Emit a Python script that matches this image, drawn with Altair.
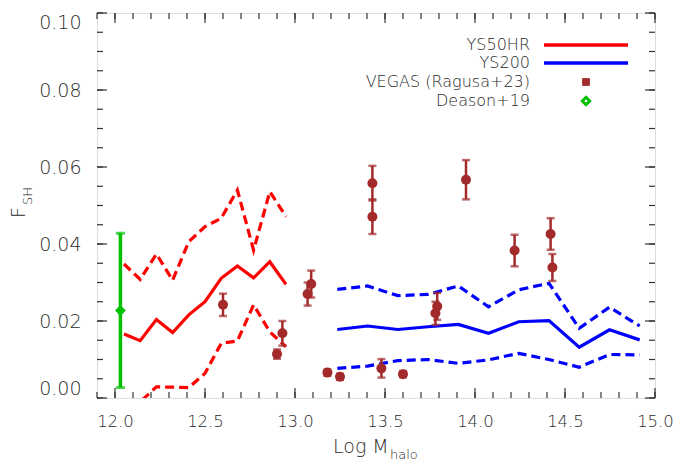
import altair as alt
import pandas as pd
import numpy as np

# ---------------- data ----------------
ys50_x = [12.05, 12.14, 12.23, 12.32, 12.41, 12.50, 12.59, 12.68, 12.77, 12.86, 12.95]
ys50_mid = [0.0166, 0.0149, 0.0204, 0.0170, 0.0216, 0.0250, 0.0311, 0.0343, 0.0312, 0.0354, 0.0295]
ys50_hi = [0.0348, 0.0308, 0.0374, 0.0306, 0.0406, 0.0445, 0.0467, 0.0540, 0.0384, 0.0536, 0.0471]
ys50_lo = [-0.006, -0.001, 0.0029, 0.0028, 0.0027, 0.0064, 0.0142, 0.0148, 0.0242, 0.0172, 0.0133]

ys200_x = [13.235, 13.403, 13.571, 13.739, 13.907, 14.075, 14.243, 14.411, 14.579, 14.747, 14.915]
ys200_mid = [0.0178, 0.0187, 0.0178, 0.0185, 0.0191, 0.0168, 0.0198, 0.0201, 0.0132, 0.0177, 0.0151]
ys200_hi = [0.0282, 0.0291, 0.0266, 0.0269, 0.0291, 0.0237, 0.0281, 0.0298, 0.0181, 0.0236, 0.0187]
ys200_lo = [0.0077, 0.0083, 0.0097, 0.0100, 0.0090, 0.0099, 0.0116, 0.0100, 0.0080, 0.0113, 0.0112]

vegas_x = [12.60, 12.90, 12.93, 13.07, 13.09, 13.18, 13.25, 13.43, 13.43, 13.48, 13.60,
           13.78, 13.79, 13.95, 14.22, 14.42, 14.43]
vegas_y = [0.0242, 0.0114, 0.0168, 0.0270, 0.0296, 0.0066, 0.0055, 0.0558, 0.0471, 0.0077, 0.0062,
           0.0220, 0.0238, 0.0567, 0.0383, 0.0426, 0.0339]
vegas_err = [0.0029, 0.0012, 0.0032, 0.0030, 0.0035, 0.0008, 0.0008, 0.0045, 0.0045, 0.0024, 0.0008,
             0.0030, 0.0035, 0.0051, 0.0041, 0.0041, 0.0035]

deason_x = [12.03]
deason_y = [0.0227]
deason_lo = [0.0027]
deason_hi = [0.0428]

x_ticks = [12.0, 12.5, 13.0, 13.5, 14.0, 14.5, 15.0]
y_ticks = [0.00, 0.02, 0.04, 0.06, 0.08, 0.10]

legend_labels = ["YS50HR", "YS200", "VEGAS (Ragusa+23)", "Deason+19"]

# ---------------- styling ----------------
W, H = 558, 385
RED, BLUE, BROWN, GREEN = "#ff0000", "#0000ff", "#a32a2a", "#00c000"
FONT = "DejaVu Sans"
TXT = "#2a2a2a"

xs = alt.Scale(domain=[11.9, 15.0], nice=False, zero=False)
ysc = alt.Scale(domain=[0.0, 0.10], nice=False, zero=False)

XAX = alt.Axis(values=x_ticks, format=".1f", title=None, ticks=False,
               domain=False, grid=False, labelFontSize=16.5, labelFont=FONT, labelFontWeight=200,
               labelColor=TXT, labelPadding=15, labelFlush=False)
YAX = alt.Axis(values=y_ticks, format=".2f", title=None, ticks=False,
               domain=False, grid=False, labelFontSize=19, labelFont=FONT, labelFontWeight=200,
               labelColor=TXT, labelPadding=16, labelFlush=True, labelFlushOffset=0)

red = pd.DataFrame({"x": ys50_x, "mid": ys50_mid, "hi": ys50_hi, "lo": ys50_lo})
blue = pd.DataFrame({"x": ys200_x, "mid": ys200_mid, "hi": ys200_hi, "lo": ys200_lo})
veg = pd.DataFrame({"x": vegas_x, "y": vegas_y,
                    "lo": np.array(vegas_y) - np.array(vegas_err),
                    "hi": np.array(vegas_y) + np.array(vegas_err)})
dea = pd.DataFrame({"x": deason_x, "y": deason_y, "lo": deason_lo, "hi": deason_hi})


def X(f="x"):
    return alt.X(f"{f}:Q", scale=xs, axis=XAX)


def Y(f):
    return alt.Y(f"{f}:Q", scale=ysc, axis=YAX)


layers = []


def line(df, col, color, dashed):
    kw = dict(color=color, strokeWidth=3.2, clip=True)
    if dashed:
        kw["strokeDash"] = [9, 5]
    return alt.Chart(df).mark_line(**kw).encode(x=X(), y=Y(col))


layers += [line(red, "hi", RED, True), line(red, "lo", RED, True), line(red, "mid", RED, False)]
layers += [line(blue, "hi", BLUE, True), line(blue, "lo", BLUE, True), line(blue, "mid", BLUE, False)]

# VEGAS error bars
layers.append(alt.Chart(veg).mark_rule(color=BROWN, strokeWidth=2.5).encode(
    x=X(), y=Y("lo"), y2="hi"))
layers.append(alt.Chart(veg).mark_tick(color=BROWN, orient="horizontal", size=8, thickness=2.5).encode(
    x=X(), y=Y("lo")))
layers.append(alt.Chart(veg).mark_tick(color=BROWN, orient="horizontal", size=8, thickness=2.5).encode(
    x=X(), y=Y("hi")))
layers.append(alt.Chart(veg).mark_point(shape="circle", filled=True, size=100, color=BROWN, opacity=1).encode(
    x=X(), y=Y("y")))

# Deason
layers.append(alt.Chart(dea).mark_rule(color=GREEN, strokeWidth=3.5).encode(
    x=X(), y=Y("lo"), y2="hi"))
layers.append(alt.Chart(dea).mark_tick(color=GREEN, orient="horizontal", size=9, thickness=3).encode(
    x=X(), y=Y("lo")))
layers.append(alt.Chart(dea).mark_tick(color=GREEN, orient="horizontal", size=9, thickness=3).encode(
    x=X(), y=Y("hi")))
layers.append(alt.Chart(dea).mark_point(shape="diamond", filled=True, size=120, color=GREEN, opacity=1).encode(
    x=X(), y=Y("y")))

# inward ticks on all four sides
xmaj = pd.DataFrame({"v": x_ticks})
xmin = pd.DataFrame({"v": [round(v, 1) for v in np.arange(11.9, 15.0001, 0.1)]})
ymaj = pd.DataFrame({"v": y_ticks})
ymin = pd.DataFrame({"v": [round(v, 3) for v in np.arange(0.0, 0.10001, 0.005)]})
TC = "#333333"
for df, L in ((xmaj, 10), (xmin, 6)):
    layers.append(alt.Chart(df).mark_rule(color=TC, strokeWidth=1.2).encode(
        x=X("v"), y=alt.value(H), y2=alt.value(H - L)))
    layers.append(alt.Chart(df).mark_rule(color=TC, strokeWidth=1.2).encode(
        x=X("v"), y=alt.value(0), y2=alt.value(L)))
for df, L in ((ymaj, 10), (ymin, 6)):
    layers.append(alt.Chart(df).mark_rule(color=TC, strokeWidth=1.2).encode(
        y=Y("v"), x=alt.value(0), x2=alt.value(L)))
    layers.append(alt.Chart(df).mark_rule(color=TC, strokeWidth=1.2).encode(
        y=Y("v"), x=alt.value(W), x2=alt.value(W - L)))

# axis titles
one = pd.DataFrame({"k": [0]})


def txt(text, x, y, size, align="left", angle=0, baseline="alphabetic"):
    return alt.Chart(one).mark_text(text=text, font=FONT, fontSize=size, color=TXT, fontWeight=200,
                                    align=align, angle=angle, baseline=baseline).encode(
        x=alt.value(x), y=alt.value(y))


layers.append(txt("Log M", 236, 440, 19, align="left"))
layers.append(txt("halo", 293, 446, 13, align="left"))
layers.append(txt("F", -72, 205, 19, align="left", angle=270))
layers.append(txt("SH", -65, 192, 13, align="left", angle=270))

# legend
leg_y = [32, 50, 69, 88]
for lab, yy in zip(legend_labels, leg_y):
    layers.append(txt(lab, 433, yy, 16, align="right", baseline="middle"))
layers.append(alt.Chart(one).mark_rule(color=RED, strokeWidth=3.5).encode(
    x=alt.value(447), x2=alt.value(531), y=alt.value(leg_y[0])))
layers.append(alt.Chart(one).mark_rule(color=BLUE, strokeWidth=3.5).encode(
    x=alt.value(447), x2=alt.value(531), y=alt.value(leg_y[1])))
layers.append(alt.Chart(one).mark_point(shape="square", filled=True, size=60, color=BROWN, opacity=1).encode(
    x=alt.value(489), y=alt.value(leg_y[2])))
layers.append(alt.Chart(one).mark_point(shape="diamond", filled=False, size=55, color=GREEN,
                                        strokeWidth=3, opacity=1).encode(
    x=alt.value(489), y=alt.value(leg_y[3])))

chart = alt.layer(*layers).properties(
    width=W, height=H, autosize="none",
    padding={"left": 89, "top": 5, "right": 18, "bottom": 66},
).configure_view(stroke="#222222", strokeWidth=1.6).configure(background="white")

chart.save("out.html", embed_options={"renderer": "svg", "actions": False})
